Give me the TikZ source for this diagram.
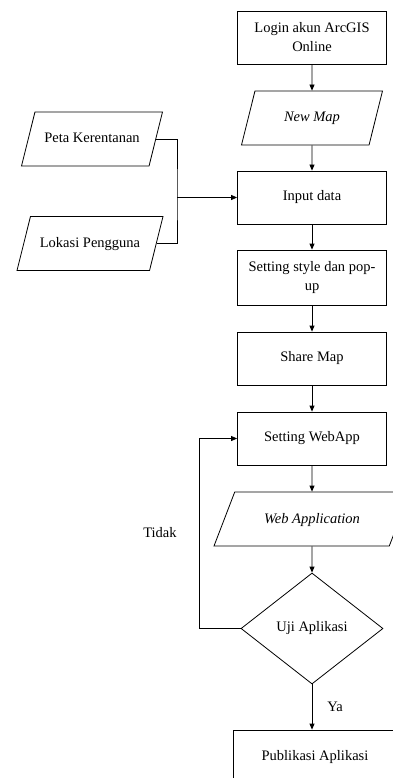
\documentclass[tikz,border=0pt]{standalone}
\usepackage{fontspec}
\setmainfont{Liberation Serif}
\usetikzlibrary{arrows.meta,shapes.geometric,calc}
\tikzset{
  >={Triangle[length=6pt,width=5pt]},
  box/.style={draw, line width=0.8pt, align=center, font=\fontsize{14.5}{19}\selectfont,
              minimum width=#1, minimum height=53pt, inner sep=2pt},
  box/.default=149pt,
  io/.style={draw, line width=0.8pt, trapezium, trapezium left angle=76, trapezium right angle=104,
             trapezium stretches body, minimum width=#1, inner xsep=1pt, inner ysep=0pt,
             text height=27pt, text depth=27pt, font=\fontsize{14.5}{19}\selectfont},
  io/.default=141pt,
  dec/.style={draw, line width=0.8pt, diamond, minimum width=142pt, minimum height=111pt,
              inner sep=0pt, font=\fontsize{14.5}{19}\selectfont},
  flow/.style={->, line width=0.8pt},
  line/.style={line width=0.8pt},
  lab/.style={font=\fontsize{14.5}{19}\selectfont}
}
\begin{document}
\begin{tikzpicture}[x=1pt, y=-1pt]
\useasboundingbox (0,0) rectangle (393,778);
\clip (0,0) rectangle (393,778);
\node[box] (login) at (312,37.5) {Login akun ArcGIS\\ Online};
\node[io] (newmap) at (312,118) {\raisebox{-4pt}{\itshape New Map}};
\node[box] (input) at (312,197.5) {Input data};
\node[io] (peta) at (92,139) {\raisebox{-4pt}{Peta Kerentanan}};
\node[io=146pt] (lokasi) at (90,243.5) {\raisebox{-4pt}{Lokasi Pengguna}};
\node[box, minimum height=55pt] (style) at (312,277.5) {Setting style dan pop-\\ up};
\node[box] (share) at (312,358.5) {Share Map};
\node[box] (webapp) at (312,438.5) {Setting WebApp};
\node[io=196pt, trapezium left angle=69, trapezium right angle=111] (webappl) at (312,519) {\raisebox{-4pt}{\itshape Web Application}};
\node[dec] (uji) at (312,628.5) {Uji Aplikasi};
\node[box=164pt, minimum height=54pt] (publik) at (315,757) {Publikasi Aplikasi};
\coordinate (join) at (177,197.5);
\draw[flow] (login) -- (newmap);
\draw[flow] (newmap) -- (input);
\draw[line] (peta.east) -| (join) |- (lokasi.east);
\draw[flow] (join) -- (input);
\draw[flow] (input) -- (style);
\draw[flow] (style) -- (share);
\draw[flow] (share) -- (webapp);
\draw[flow] (webapp) -- (webappl);
\draw[flow] (webappl) -- (uji);
\draw[flow] (uji.west) -- ++(-41,0) |- (webapp.west);
\node[lab] (tidak) at (160,533) {Tidak};
\draw[flow] (uji.south) -- (uji.south |- publik.north);
\node[lab] (ya) at (335,707) {Ya};
\end{tikzpicture}
\end{document}
